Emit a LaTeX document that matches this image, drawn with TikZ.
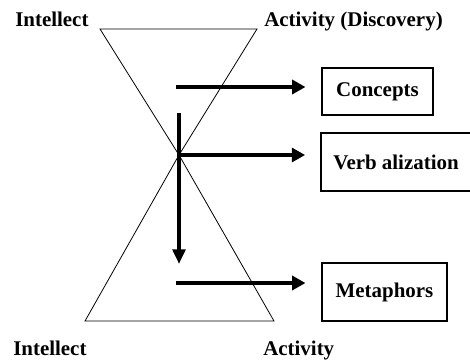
\documentclass[tikz,border=0pt]{standalone}
\usepackage{fontspec}
\setmainfont{Liberation Serif}
\usetikzlibrary{arrows.meta}

\begin{document}
\begin{tikzpicture}[x=0.75pt,y=-0.75pt,
    lbl/.style={font=\bfseries\fontsize{15.7}{18}\selectfont,inner sep=0pt,anchor=base west},
    boxnode/.style={draw,line width=0.8pt,font=\bfseries\fontsize{15.7}{18}\selectfont,inner sep=0pt},
    bigarrow/.style={line width=3pt,-{Triangle[length=10pt,width=10.5pt]}},
    cone/.style={line width=0.6pt}]
  \useasboundingbox (0,0) rectangle (470,360);
  % the two cones
  \coordinate (x) at (179,155);
  \coordinate (tl) at (100,29);
  \coordinate (tr) at (257,29);
  \coordinate (bl) at (85,321);
  \coordinate (br) at (274,321);
  \draw[cone] (tl) -- (tr) -- (x) -- cycle;
  \draw[cone] (bl) -- (br) -- (x) -- cycle;
  \node[lbl] (intop) at (15,27) {Intellect};
  \node[lbl] (actop) at (264,27) {Activity (Discovery)};
  \node[lbl] (inbot) at (13,355) {Intellect};
  \node[lbl] (acbot) at (263,355) {Activity};
  % boxes
  \node[boxnode,minimum width=83.25pt,minimum height=35.25pt] (conc) at (377.5,91.5) {Concepts};
  \node[boxnode,minimum width=112.5pt,minimum height=43.5pt] (verb) at (396,162) {Verb alization};
  \node[boxnode,minimum width=93.75pt,minimum height=43.5pt] (meta) at (384.5,292) {Metaphors};
  % arrows
  \coordinate (c1) at (176,87);
  \coordinate (c3) at (176,283);
  \coordinate (vtop) at (179,113);
  \coordinate (vbot) at (179,264);
  \draw[bigarrow,shorten >=12pt] (c1) -- (c1 -| conc.west);
  \draw[bigarrow,line width=2.4pt,shorten >=11.5pt] (x) -- (x -| verb.west);
  \draw[bigarrow,shorten >=12pt] (c3) -- (c3 -| meta.west);
  \draw[line width=3pt,-{Triangle[length=11pt,width=9.5pt]}] (vtop) -- (vbot);
\end{tikzpicture}
\end{document}
